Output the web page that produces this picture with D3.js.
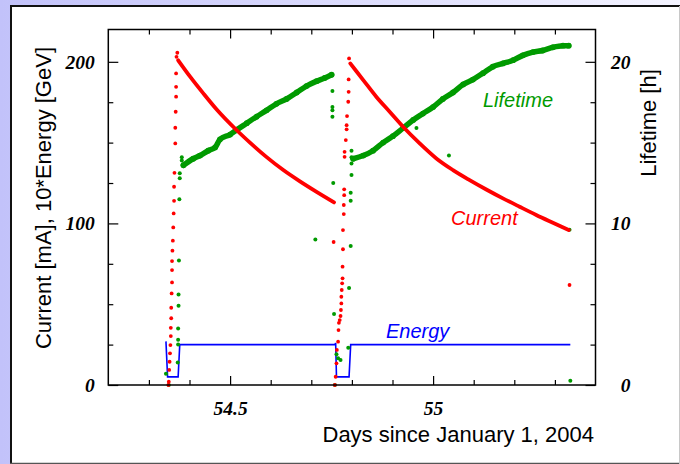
<!DOCTYPE html>
<html>
<head>
<meta charset="utf-8">
<script src="https://cdn.jsdelivr.net/npm/d3@7"></script>
<style>
  body { margin: 0; padding: 0; background: #fff; }
  svg { display: block; }
</style>
</head>
<body>
<svg></svg>
<script>
// beam energy (x10, GeV) as a step trace
let energyData = [
  [54.342, 27], [54.346, 5], [54.372, 5], [54.376, 25], [54.758, 25],
  [54.760, 26], [54.762, 5], [54.793, 5], [54.797, 25], [55.338, 25]
]

// current [mA] during injection (sparse dots)
let currentInject1 = [
  [54.348, 0], [54.349, 2], [54.350, 9.3], [54.351, 14.4], [54.352, 19.6], [54.353, 24.7],
  [54.354, 30.3], [54.354, 35.4], [54.355, 41.3], [54.355, 47.8], [54.356, 56.7], [54.357, 63.5],
  [54.357, 71.1], [54.357, 76.7], [54.358, 83.1], [54.359, 89.3], [54.360, 97.5], [54.361, 106.2],
  [54.362, 114], [54.362, 122.7], [54.363, 131.3], [54.365, 149.5], [54.365, 159.2], [54.366, 169.1],
  [54.367, 178.4], [54.367, 184.5], [54.367, 192.8], [54.368, 203.1], [54.370, 205.6]
]
let currentInject2 = [
  [54.755, 88.5], [54.758, 0], [54.760, 5.1], [54.762, 13.4], [54.763, 21.7], [54.766, 26.8],
  [54.767, 34], [54.768, 38.5], [54.770, 40.2], [54.772, 42.7], [54.773, 46.4], [54.774, 50.5],
  [54.774, 54.6], [54.775, 58.8], [54.776, 62.9], [54.777, 66], [54.777, 73.2], [54.778, 84],
  [54.778, 95.9], [54.780, 105.8], [54.780, 111.4], [54.781, 117.5], [54.781, 121.1], [54.782, 141.2],
  [54.782, 144.3], [54.785, 151.6], [54.787, 158.2], [54.787, 160.8], [54.788, 166.4], [54.791, 175.3],
  [54.792, 181.4], [54.792, 189.1], [54.793, 202.1], [55.336, 61.9]
]

// stored-beam current decay [mA]
let currentFill1 = [
  [54.372, 201], [54.401, 191], [54.434, 180.5], [54.467, 170.5], [54.517, 157.5], [54.549, 150],
  [54.590, 141], [54.631, 133], [54.672, 126], [54.713, 119.5], [54.756, 113]
]
let currentFill2 = [
  [54.796, 199], [54.828, 188.7], [54.860, 178.4], [54.893, 169.1], [54.926, 159.8], [54.967, 149.5],
  [55.008, 140.2], [55.049, 133], [55.090, 126.8], [55.131, 121], [55.172, 115.5], [55.213, 110.3],
  [55.254, 105.2], [55.295, 100.4], [55.334, 95.9]
]

// beam lifetime [h]
let lifetimeFill1 = [
  [54.385, 13.6], [54.409, 14.0], [54.426, 14.2], [54.446, 14.5], [54.463, 14.7], [54.475, 15.2],
  [54.500, 15.5], [54.517, 15.8], [54.541, 16.2], [54.565, 16.6], [54.590, 17.0], [54.614, 17.4],
  [54.639, 17.7], [54.664, 18.1], [54.688, 18.5], [54.713, 18.8], [54.733, 19.0], [54.750, 19.2]
]
let lifetimeFill2 = [
  [54.803, 14.0], [54.828, 14.2], [54.852, 14.5], [54.877, 15.0], [54.901, 15.4], [54.926, 15.9],
  [54.951, 16.4], [54.975, 16.8], [55.000, 17.2], [55.024, 17.7], [55.049, 18.1], [55.074, 18.6],
  [55.098, 18.9], [55.123, 19.3], [55.147, 19.7], [55.172, 19.9], [55.197, 20.1], [55.221, 20.4],
  [55.246, 20.6], [55.270, 20.7], [55.295, 20.9], [55.320, 21.0], [55.334, 21.0]
]
let lifetimeOutliers = [
  [54.381, 14.1], [54.381, 13.9], [54.376, 13.1], [54.376, 12.8], [54.375, 11.5], [54.374, 7.7],
  [54.373, 5.6], [54.373, 4.9], [54.372, 3.5], [54.372, 2.8], [54.372, 2.5], [54.371, 1.4],
  [54.342, 0.7], [54.349, 0], [54.710, 9.0], [54.752, 18.2], [54.752, 17.2], [54.752, 17.0],
  [54.752, 16.6], [54.754, 12.5], [54.756, 4.4], [54.762, 1.9], [54.766, 1.65], [54.772, 1.55],
  [54.758, 0], [54.799, 14.5], [54.799, 14.1], [54.799, 13.7], [54.799, 13.0], [54.797, 11.9],
  [54.797, 11.4], [54.797, 8.6], [54.793, 6.0], [54.791, 2.3], [54.959, 15.9], [55.039, 14.2],
  [55.336, 9.6], [55.338, 0.27]
]

let xDomain = [54.2, 55.4]
let xMajorTicks = [54.5, 55]
let xMinorTicks = [54.3, 54.4, 54.6, 54.7, 54.8, 54.9, 55.1, 55.2, 55.3]
let leftMajorTicks = [0, 100, 200]
let leftMinorTicks = [25, 50, 75, 125, 150, 175]
let rightMajorTicks = [0, 10, 20]
let rightMinorTicks = [2.5, 5, 7.5, 12.5, 15, 17.5]

let width = 680
let height = 464
let plotLeft = 108.3
let plotRight = 595.5
let plotTop = 29.5
let plotBottom = 385

let red = '#ff0000'
let green = '#009a00'
let blue = '#0000ff'
let labelFont = '"Liberation Serif", "Times New Roman", serif'
let titleFont = '"Liberation Sans", Arial, sans-serif'

let svg = d3.select('svg').attr('width', width).attr('height', height)

let xScale = d3.scaleLinear().domain(xDomain).range([plotLeft, plotRight])
let yLeft = d3.scaleLinear().domain([0, 220]).range([plotBottom, plotTop])
let yRight = d3.scaleLinear().domain([0, 22]).range([plotBottom, plotTop])

let drawBackground = () => {
    let grad = svg.append('defs').append('linearGradient')
                  .attr('id', 'bg').attr('x1', 0).attr('x2', 1).attr('y1', 0).attr('y2', 0)
    grad.append('stop').attr('offset', 0).attr('stop-color', '#c2c2fa')
    grad.append('stop').attr('offset', 1).attr('stop-color', '#f4f4ff')

    svg.append('rect').attr('width', width).attr('height', height).attr('fill', 'url(#bg)')
    svg.append('rect').attr('x', 11).attr('y', 6).attr('width', width - 11).attr('height', height - 6)
       .attr('fill', '#fff')
    // panel edges
    svg.append('line').attr('x1', 10).attr('x2', width).attr('y1', 6).attr('y2', 6)
       .attr('stroke', '#111').attr('stroke-width', 2)
    svg.append('line').attr('x1', 11).attr('x2', 11).attr('y1', 5).attr('y2', height)
       .attr('stroke', '#111').attr('stroke-width', 2)
    svg.append('line').attr('x1', 10).attr('x2', width).attr('y1', 463.5).attr('y2', 463.5)
       .attr('stroke', '#555').attr('stroke-width', 1.5)
    svg.append('line').attr('x1', 679.5).attr('x2', 679.5).attr('y1', 6).attr('y2', height)
       .attr('stroke', '#c8c8c8').attr('stroke-width', 1)
}

let styleAxis = (g) => {
    g.select('.domain').remove()
    g.selectAll('line').attr('stroke', '#000').attr('stroke-width', 1.2)
    g.selectAll('text')
     .attr('fill', '#000')
     .style('font-family', labelFont)
     .style('font-size', '19.5px')
     .style('font-weight', 'bold')
     .style('font-style', 'italic')
}

let generateAxes = () => {
    let fmt = d3.format('')
    // bottom
    svg.append('g').attr('transform', 'translate(0,' + plotBottom + ')')
       .call(d3.axisBottom(xScale).tickValues(xMajorTicks).tickSize(-9).tickPadding(16.5).tickFormat(fmt))
       .call(styleAxis)
    svg.append('g').attr('transform', 'translate(0,' + plotBottom + ')')
       .call(d3.axisBottom(xScale).tickValues(xMinorTicks).tickSize(-5).tickFormat(''))
       .call(styleAxis)
    // top
    svg.append('g').attr('transform', 'translate(0,' + plotTop + ')')
       .call(d3.axisTop(xScale).tickValues(xMajorTicks).tickSize(-9).tickFormat(''))
       .call(styleAxis)
    svg.append('g').attr('transform', 'translate(0,' + plotTop + ')')
       .call(d3.axisTop(xScale).tickValues(xMinorTicks).tickSize(-5).tickFormat(''))
       .call(styleAxis)
    // left
    svg.append('g').attr('transform', 'translate(' + plotLeft + ',0)')
       .call(d3.axisLeft(yLeft).tickValues(leftMajorTicks).tickSize(-10).tickPadding(13.5).tickFormat(fmt))
       .call(styleAxis)
    svg.append('g').attr('transform', 'translate(' + plotLeft + ',0)')
       .call(d3.axisLeft(yLeft).tickValues(leftMinorTicks).tickSize(-5).tickFormat(''))
       .call(styleAxis)
    // right
    let right = svg.append('g').attr('transform', 'translate(' + plotRight + ',0)')
       .call(d3.axisRight(yRight).tickValues(rightMajorTicks).tickSize(-10).tickFormat(fmt))
       .call(styleAxis)
    right.selectAll('text').attr('x', 35).attr('text-anchor', 'end')
    svg.append('g').attr('transform', 'translate(' + plotRight + ',0)')
       .call(d3.axisRight(yRight).tickValues(rightMinorTicks).tickSize(-5).tickFormat(''))
       .call(styleAxis)

    svg.append('rect')
       .attr('x', plotLeft).attr('y', plotTop)
       .attr('width', plotRight - plotLeft).attr('height', plotBottom - plotTop)
       .attr('fill', 'none').attr('stroke', '#000').attr('stroke-width', 1.5)
}

let drawTitles = () => {
    svg.append('text')
       .attr('transform', 'translate(51,198) rotate(-90)')
       .attr('text-anchor', 'middle')
       .style('font-family', titleFont).style('font-size', '22px')
       .text('Current [mA], 10*Energy [GeV]')
    svg.append('text')
       .attr('transform', 'translate(656,123) rotate(-90)')
       .attr('text-anchor', 'middle')
       .style('font-family', titleFont).style('font-size', '22px')
       .text('Lifetime [h]')
    svg.append('text')
       .attr('x', 594).attr('y', 442)
       .attr('text-anchor', 'end')
       .style('font-family', titleFont).style('font-size', '22px')
       .text('Days since January 1, 2004')

    let notes = [
        {text: 'Lifetime', x: 483, y: 107, color: green},
        {text: 'Current', x: 451, y: 225, color: red},
        {text: 'Energy', x: 386, y: 338, color: blue}
    ]
    svg.selectAll('.note').data(notes).enter().append('text')
       .attr('class', 'note')
       .attr('x', d => d.x).attr('y', d => d.y)
       .attr('fill', d => d.color)
       .style('font-family', titleFont).style('font-size', '20px').style('font-style', 'italic')
       .text(d => d.text)
}

let drawSeries = () => {
    let plot = svg.append('g')

    let lineLeft = d3.line().x(d => xScale(d[0])).y(d => yLeft(d[1]))
    let lineRight = d3.line().x(d => xScale(d[0])).y(d => yRight(d[1])).curve(d3.curveMonotoneX)

    // energy step trace
    plot.append('path').datum(energyData)
        .attr('d', lineLeft)
        .attr('fill', 'none').attr('stroke', blue).attr('stroke-width', 1.6)

    // lifetime bands
    ;[lifetimeFill1, lifetimeFill2].forEach(fill => {
        plot.append('path').datum(fill)
            .attr('d', lineRight)
            .attr('fill', 'none').attr('stroke', green).attr('stroke-width', 5.5)
            .attr('stroke-linecap', 'round')
        plot.selectAll(null).data(fill).enter().append('circle')
            .attr('cx', d => xScale(d[0])).attr('cy', d => yRight(d[1]))
            .attr('r', 2.9).attr('fill', green)
    })
    plot.selectAll(null).data(lifetimeOutliers).enter().append('circle')
        .attr('cx', d => xScale(d[0])).attr('cy', d => yRight(d[1]))
        .attr('r', 2).attr('fill', green)

    // current decay
    let currentLine = d3.line().x(d => xScale(d[0])).y(d => yLeft(d[1])).curve(d3.curveMonotoneX)
    ;[currentFill1, currentFill2].forEach(fill => {
        plot.append('path').datum(fill)
            .attr('d', currentLine)
            .attr('fill', 'none').attr('stroke', red).attr('stroke-width', 3.8)
            .attr('stroke-linecap', 'round')
    })
    plot.selectAll(null).data(currentInject1.concat(currentInject2)).enter().append('circle')
        .attr('cx', d => xScale(d[0])).attr('cy', d => yLeft(d[1]))
        .attr('r', 1.9).attr('fill', red)
}

drawBackground()
drawSeries()
generateAxes()
drawTitles()
</script>
</body>
</html>
